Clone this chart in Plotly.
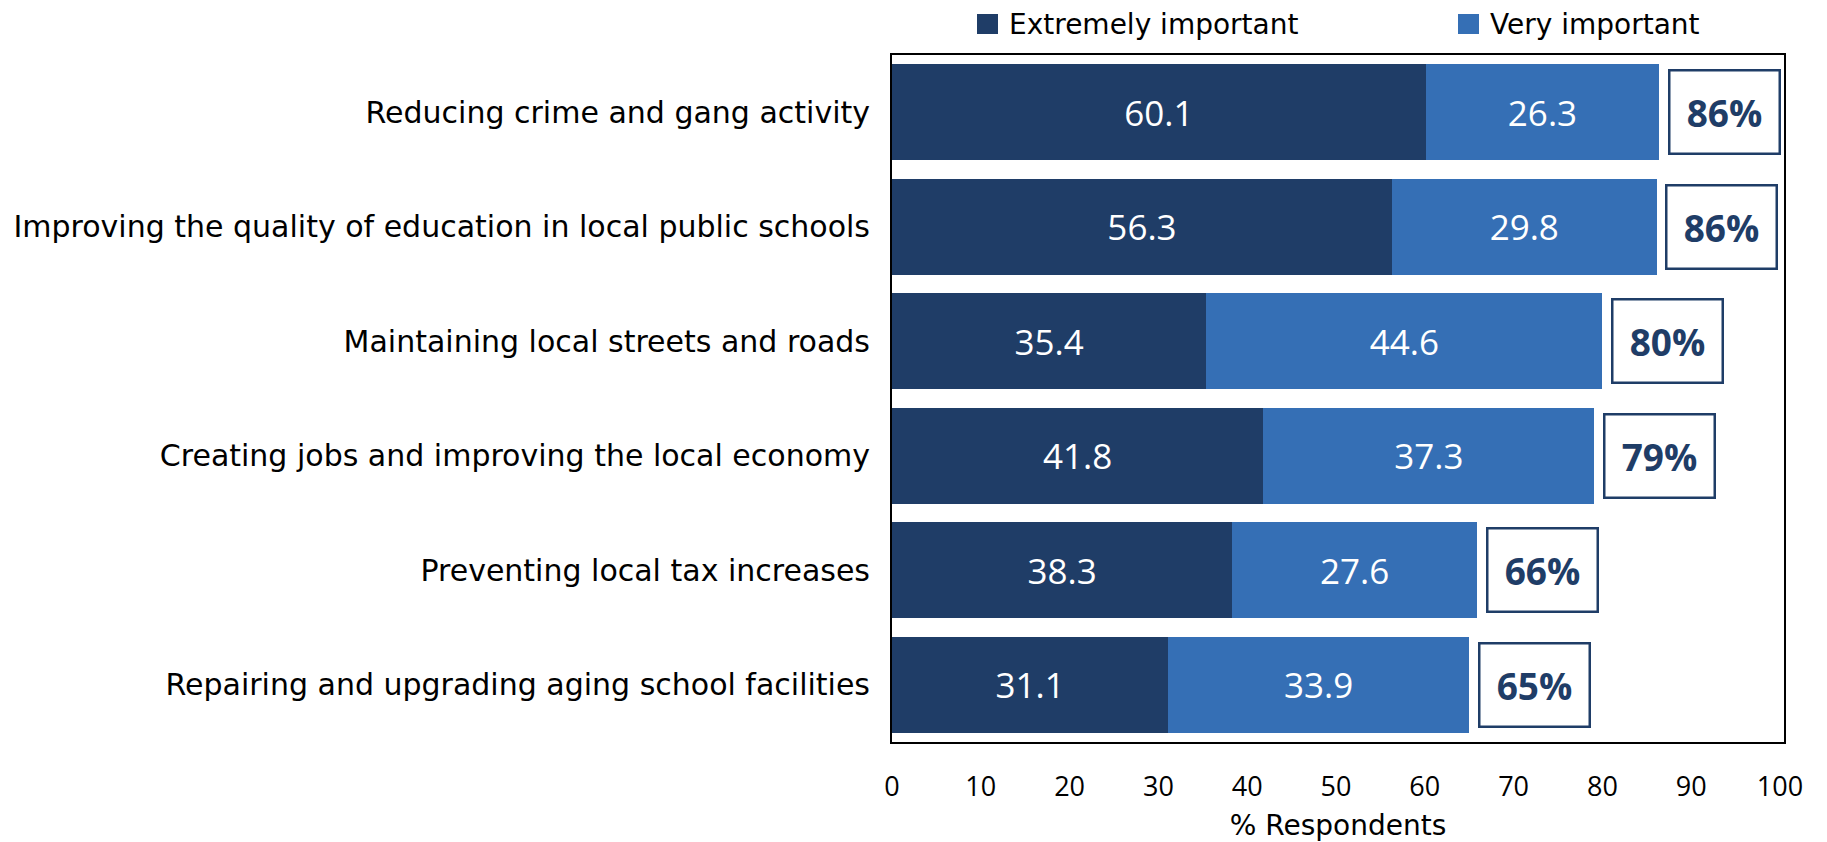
import plotly.graph_objects as go

# ---- data ----
categories = [
    "Reducing crime and gang activity",
    "Improving the quality of education in local public schools",
    "Maintaining local streets and roads",
    "Creating jobs and improving the local economy",
    "Preventing local tax increases",
    "Repairing and upgrading aging school facilities",
]
extremely_important = [60.1, 56.3, 35.4, 41.8, 38.3, 31.1]
very_important = [26.3, 29.8, 44.6, 37.3, 27.6, 33.9]
series_names = ["Extremely important", "Very important"]
x_tick_values = [0, 10, 20, 30, 40, 50, 60, 70, 80, 90, 100]
x_axis_title = "% Respondents"

# ---- style ----
DARK = "#1F3D67"
LIGHT = "#356FB5"
FONT = "Open Sans"
LABEL_FONT = "DejaVu Sans"

fig = go.Figure()
for name, vals, col in [(series_names[0], extremely_important, DARK),
                        (series_names[1], very_important, LIGHT)]:
    fig.add_trace(go.Bar(
        y=categories, x=vals, orientation="h", name=name,
        marker=dict(color=col, line=dict(width=0)),
        width=0.84,
        texttemplate="%{x:.1f}", textposition="inside",
        insidetextanchor="middle", constraintext="none",
        textfont=dict(color="white", size=35, family=FONT),
        showlegend=False,
    ))

# total boxes
annotations = []
for cat, a, b in zip(categories, extremely_important, very_important):
    tot = a + b
    annotations.append(dict(
        x=tot + 1.0, y=cat, xref="x", yref="y", xanchor="left", yanchor="middle",
        text=f"<b>{round(tot)}%</b>", showarrow=False,
        font=dict(family=FONT, size=37, color=DARK),
        bgcolor="white", bordercolor=DARK, borderwidth=2.5, borderpad=2,
        width=104, height=77, align="center", valign="middle",
    ))

# manual legend (paper coords)
W, H = 892.0, 687.0
def px_x(px):
    return (px - 892) / W
def px_y(py):
    return (742 - py) / H

shapes = []
legend_items = [(977, 1007, series_names[0], DARK), (1458, 1488, series_names[1], LIGHT)]
for sx, tx, name, col in legend_items:
    shapes.append(dict(type="rect", xref="paper", yref="paper",
                       x0=px_x(sx), x1=px_x(sx + 21), y0=px_y(34), y1=px_y(14),
                       fillcolor=col, line=dict(width=0)))
    annotations.append(dict(x=px_x(tx), y=px_y(24), xref="paper", yref="paper",
                            xanchor="left", yanchor="middle", showarrow=False,
                            text=name, font=dict(family=LABEL_FONT, size=28, color="black")))

fig.update_layout(
    width=1827, height=842,
    barmode="stack",
    margin=dict(l=892, r=43, t=55, b=100),
    paper_bgcolor="white", plot_bgcolor="white",
    font=dict(family=FONT, color="black"),
    annotations=annotations, shapes=shapes,
    xaxis=dict(range=[0, 100.45], tickvals=x_tick_values, showgrid=False, zeroline=False,
               showline=True, linecolor="black", linewidth=2, mirror=True, ticks="",
               tickfont=dict(size=27, color="black", family=FONT), ticklabelstandoff=20,
               automargin=False,
               title=dict(text=x_axis_title, font=dict(size=28, color="black", family=LABEL_FONT),
                          standoff=27)),
    yaxis=dict(categoryorder="array", categoryarray=categories, range=[5.5, -0.5],
               showgrid=False, zeroline=False, showline=True, linecolor="black", linewidth=2,
               mirror=True, ticks="", tickfont=dict(size=30, color="black", family=LABEL_FONT),
               ticklabelstandoff=14, automargin=False),
)

fig.write_html("out.html")
